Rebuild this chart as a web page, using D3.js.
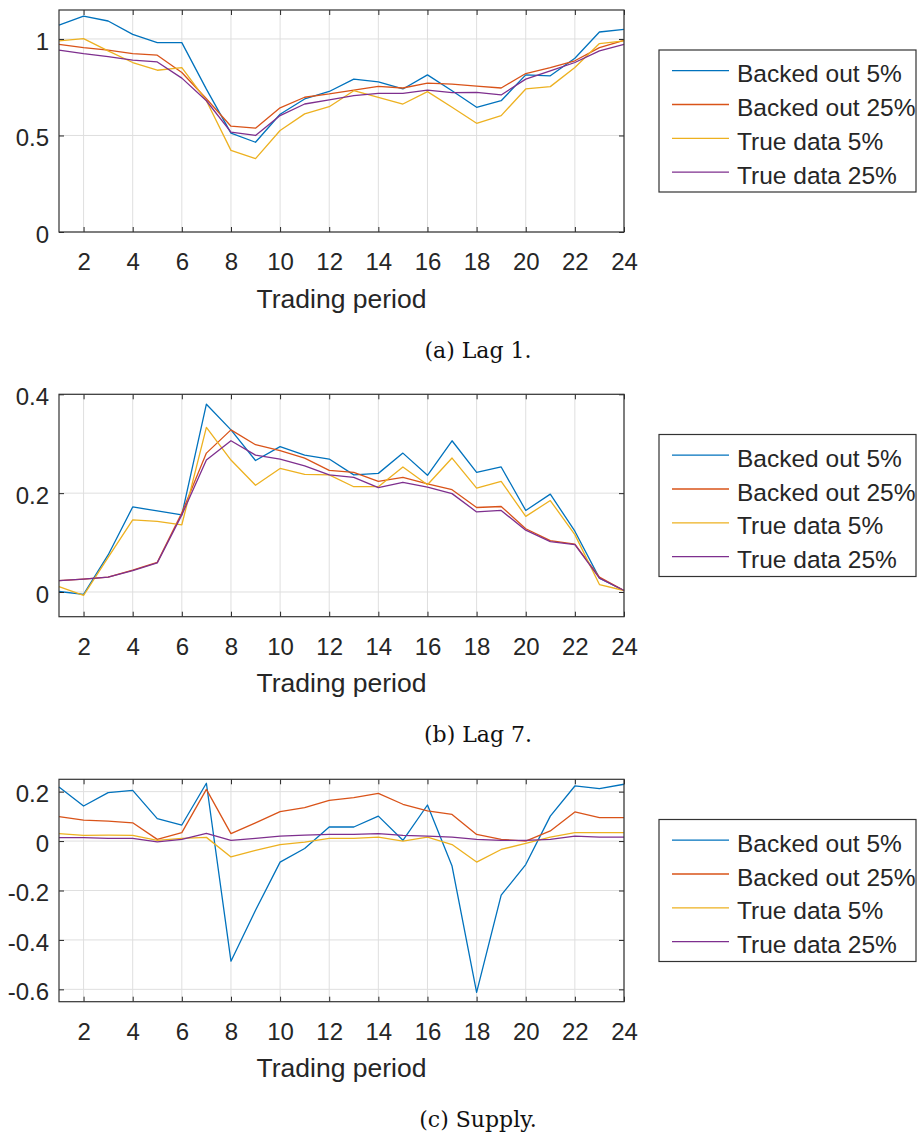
<!DOCTYPE html>
<html>
<head>
<meta charset="utf-8">
<script src="https://cdn.jsdelivr.net/npm/d3@7"></script>
<style>
  body { margin: 0; background: #fff; }
</style>
</head>
<body>
<div id="chart"></div>
<script>
// Trading periods and x tick values
const periods = [1, 2, 3, 4, 5, 6, 7, 8, 9, 10, 11, 12, 13, 14, 15, 16, 17, 18, 19, 20, 21, 22, 23, 24];
const xTickValues = [2, 4, 6, 8, 10, 12, 14, 16, 18, 20, 22, 24];

// Legend entries and MATLAB default colours
const seriesNames = ["Backed out 5%", "Backed out 25%", "True data 5%", "True data 25%"];
const seriesColors = ["#0072BD", "#D95319", "#EDB120", "#7E2F8E"];

// (a) Lag 1
const lag1Backed5 = [1.072, 1.118, 1.093, 1.024, 0.981, 0.981, 0.74, 0.512, 0.465, 0.61, 0.689, 0.728, 0.792, 0.778, 0.741, 0.814, 0.732, 0.646, 0.68, 0.814, 0.809, 0.9, 1.036, 1.05];
const lag1Backed25 = [0.972, 0.955, 0.942, 0.924, 0.916, 0.826, 0.69, 0.548, 0.538, 0.643, 0.698, 0.715, 0.735, 0.754, 0.746, 0.771, 0.766, 0.756, 0.746, 0.821, 0.852, 0.887, 0.955, 0.993];
const lag1True5 = [0.99, 1.002, 0.938, 0.878, 0.838, 0.852, 0.68, 0.423, 0.38, 0.526, 0.612, 0.649, 0.732, 0.698, 0.663, 0.727, 0.646, 0.563, 0.603, 0.741, 0.753, 0.852, 0.976, 0.99];
const lag1True25 = [0.942, 0.924, 0.909, 0.89, 0.881, 0.797, 0.68, 0.517, 0.5, 0.603, 0.663, 0.684, 0.706, 0.718, 0.718, 0.735, 0.722, 0.723, 0.71, 0.792, 0.835, 0.878, 0.938, 0.972];
const lag1YTicks = [0, 0.5, 1];
const lag1YTickLabels = ["0", "0.5", "1"];

// (b) Lag 7
const lag7Backed5 = [0.001, -0.005, 0.075, 0.172, 0.164, 0.156, 0.38, 0.328, 0.266, 0.294, 0.277, 0.269, 0.237, 0.24, 0.281, 0.236, 0.306, 0.242, 0.253, 0.165, 0.198, 0.123, 0.028, 0.003];
const lag7Backed25 = [0.023, 0.026, 0.03, 0.044, 0.06, 0.16, 0.281, 0.328, 0.298, 0.286, 0.271, 0.246, 0.242, 0.224, 0.232, 0.219, 0.207, 0.171, 0.173, 0.128, 0.104, 0.097, 0.03, 0.003];
const lag7True5 = [0.011, -0.007, 0.07, 0.146, 0.143, 0.136, 0.333, 0.267, 0.216, 0.25, 0.238, 0.237, 0.213, 0.213, 0.253, 0.217, 0.271, 0.21, 0.224, 0.153, 0.185, 0.116, 0.015, 0.003];
const lag7True25 = [0.023, 0.026, 0.03, 0.043, 0.059, 0.156, 0.267, 0.306, 0.277, 0.269, 0.255, 0.237, 0.232, 0.211, 0.222, 0.212, 0.199, 0.162, 0.165, 0.125, 0.102, 0.096, 0.028, 0.003];
const lag7YTicks = [0, 0.2, 0.4];
const lag7YTickLabels = ["0", "0.2", "0.4"];

// (c) Supply
const supplyBacked5 = [0.219, 0.142, 0.196, 0.205, 0.091, 0.065, 0.234, -0.486, -0.28, -0.085, -0.03, 0.057, 0.057, 0.101, 0.003, 0.146, -0.101, -0.612, -0.219, -0.095, 0.101, 0.223, 0.212, 0.23];
const supplyBacked25 = [0.099, 0.085, 0.081, 0.074, 0.007, 0.034, 0.209, 0.03, 0.074, 0.119, 0.135, 0.165, 0.176, 0.193, 0.149, 0.122, 0.108, 0.027, 0.007, 0.0, 0.041, 0.118, 0.095, 0.095];
const supplyTrue5 = [0.03, 0.023, 0.024, 0.023, 0.003, 0.011, 0.015, -0.064, -0.038, -0.014, -0.004, 0.011, 0.011, 0.016, 0.0, 0.016, -0.014, -0.085, -0.034, -0.009, 0.016, 0.034, 0.034, 0.034];
const supplyTrue25 = [0.014, 0.014, 0.011, 0.011, -0.003, 0.007, 0.031, 0.003, 0.011, 0.02, 0.024, 0.027, 0.027, 0.03, 0.023, 0.02, 0.016, 0.007, 0.003, 0.003, 0.007, 0.02, 0.016, 0.016];
const supplyYTicks = [-0.6, -0.4, -0.2, 0, 0.2];
const supplyYTickLabels = ["-0.6", "-0.4", "-0.2", "0", "0.2"];

// Layout
const plotLeft = 59;
const plotRight = 624;
const legendLeft = 659;
const legendRight = 916;
const legendHeight = 142;
const axisFont = "'Liberation Sans', Arial, Helvetica, sans-serif";
const textColor = "#262626";

const panels = [
  { top: 10, bottom: 232, yDomain: [0, 1.15], yTicks: lag1YTicks, yTickLabels: lag1YTickLabels,
    series: [lag1Backed5, lag1Backed25, lag1True5, lag1True25], caption: "(a) Lag 1." },
  { top: 394.3, bottom: 616.7, yDomain: [-0.05, 0.4], yTicks: lag7YTicks, yTickLabels: lag7YTickLabels,
    series: [lag7Backed5, lag7Backed25, lag7True5, lag7True25], caption: "(b) Lag 7." },
  { top: 779.3, bottom: 1001.7, yDomain: [-0.65, 0.25], yTicks: supplyYTicks, yTickLabels: supplyYTickLabels,
    series: [supplyBacked5, supplyBacked25, supplyTrue5, supplyTrue25], caption: "(c) Supply." }
];

const svg = d3.select("#chart")
  .append("svg")
  .attr("width", 919)
  .attr("height", 1135);

panels.forEach(drawPanel);

function drawPanel(p) {
  const xScale = d3.scaleLinear().domain([1, 24]).range([plotLeft, plotRight]);
  const yScale = d3.scaleLinear().domain(p.yDomain).range([p.bottom, p.top]);
  const g = svg.append("g");

  // Grid lines
  g.selectAll(".xgrid")
    .data(xTickValues)
    .enter()
    .append("line")
    .attr("x1", d => xScale(d)).attr("x2", d => xScale(d))
    .attr("y1", p.top).attr("y2", p.bottom)
    .attr("stroke", "#dfdfdf").attr("stroke-width", 1);

  g.selectAll(".ygrid")
    .data(p.yTicks)
    .enter()
    .append("line")
    .attr("x1", plotLeft).attr("x2", plotRight)
    .attr("y1", d => yScale(d)).attr("y2", d => yScale(d))
    .attr("stroke", "#dfdfdf").attr("stroke-width", 1);

  // Data lines
  const line = d3.line()
    .x((d, i) => xScale(periods[i]))
    .y(d => yScale(d));

  p.series.forEach((values, i) => {
    g.append("path")
      .datum(values)
      .attr("d", line)
      .attr("fill", "none")
      .attr("stroke", seriesColors[i])
      .attr("stroke-width", 1.3)
      .attr("stroke-linejoin", "round");
  });

  // Axes (ticks point inward, box on)
  const xAxis = g.append("g")
    .attr("transform", `translate(0,${p.bottom})`)
    .call(d3.axisBottom(xScale).tickValues(xTickValues).tickSizeInner(-5).tickSizeOuter(0).tickPadding(21));
  g.append("g")
    .attr("transform", `translate(0,${p.top})`)
    .call(d3.axisTop(xScale).tickValues(xTickValues).tickFormat("").tickSizeInner(-5).tickSizeOuter(0));
  const yAxis = g.append("g")
    .attr("transform", `translate(${plotLeft},0)`)
    .call(d3.axisLeft(yScale).tickValues(p.yTicks).tickFormat((d, i) => p.yTickLabels[i]).tickSizeInner(-5).tickSizeOuter(0).tickPadding(10));
  g.append("g")
    .attr("transform", `translate(${plotRight},0)`)
    .call(d3.axisRight(yScale).tickValues(p.yTicks).tickFormat("").tickSizeInner(-5).tickSizeOuter(0));

  g.selectAll(".domain").remove();
  g.selectAll(".tick line").attr("stroke", textColor).attr("stroke-width", 1);
  g.selectAll(".tick text")
    .attr("fill", textColor)
    .style("font-family", axisFont)
    .style("font-size", "24px");
  yAxis.selectAll(".tick text").attr("dy", "0.42em");

  // Box
  g.append("rect")
    .attr("x", plotLeft).attr("y", p.top)
    .attr("width", plotRight - plotLeft).attr("height", p.bottom - p.top)
    .attr("fill", "none").attr("stroke", "#333").attr("stroke-width", 1.2);

  // Axis label
  g.append("text")
    .attr("x", (plotLeft + plotRight) / 2)
    .attr("y", p.bottom + 75.5)
    .attr("text-anchor", "middle")
    .attr("fill", textColor)
    .style("font-family", axisFont)
    .style("font-size", "26.5px")
    .text("Trading period");

  // Caption
  g.append("text")
    .attr("x", 478)
    .attr("y", p.bottom + 125.5)
    .attr("text-anchor", "middle")
    .attr("fill", "#111")
    .style("font-family", "'DejaVu Serif', serif")
    .style("font-size", "22px")
    .text(p.caption);

  // Legend
  const legendTop = (p.top + p.bottom) / 2 - legendHeight / 2;
  const legend = g.append("g");
  legend.append("rect")
    .attr("x", legendLeft).attr("y", legendTop)
    .attr("width", legendRight - legendLeft).attr("height", legendHeight)
    .attr("fill", "#fff").attr("stroke", "#333").attr("stroke-width", 1.2);

  const rows = legend.selectAll(".row")
    .data(seriesNames)
    .enter()
    .append("g")
    .attr("transform", (d, i) => `translate(0,${legendTop + 20.7 + i * 33.8})`);

  rows.append("line")
    .attr("x1", 672).attr("x2", 729)
    .attr("y1", 0).attr("y2", 0)
    .attr("stroke", (d, i) => seriesColors[i])
    .attr("stroke-width", 1.3);

  rows.append("text")
    .attr("x", 737)
    .attr("y", 11.5)
    .attr("fill", textColor)
    .style("font-family", axisFont)
    .style("font-size", "24.5px")
    .text(d => d);
}
</script>
</body>
</html>
